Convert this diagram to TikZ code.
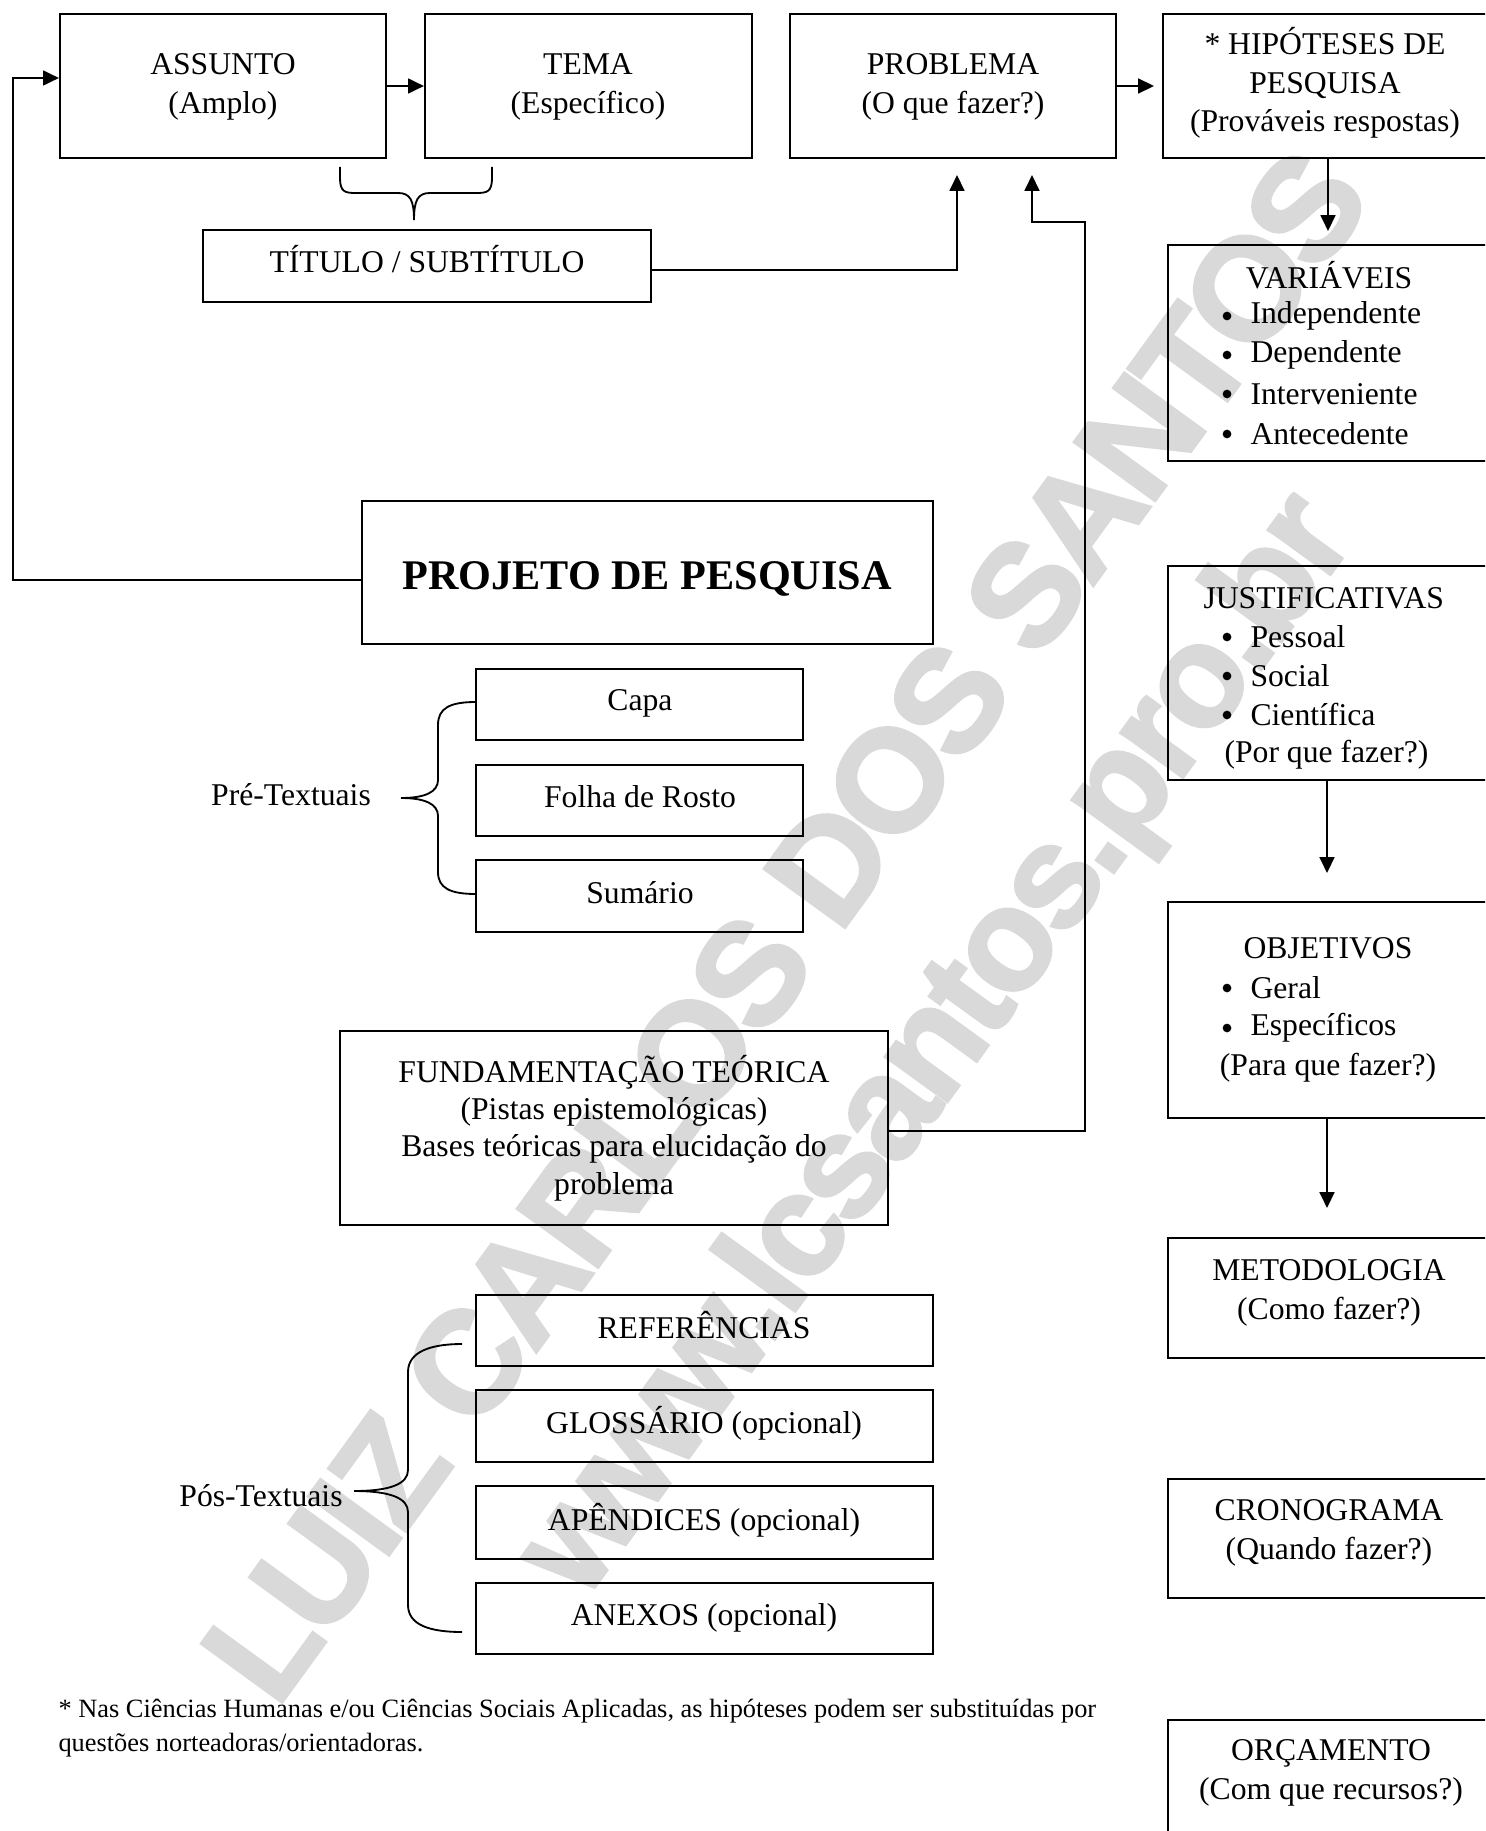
\documentclass[tikz,border=0pt]{standalone}
\usepackage{fontspec}
\setmainfont{Liberation Serif}
\newfontfamily\wmfont[LetterSpace=-4, BoldFeatures={FakeBold=2}]{Liberation Sans}
\usetikzlibrary{arrows.meta,fit}
\definecolor{wmgray}{RGB}{217,217,217}
\begin{document}
\begin{tikzpicture}[x=0.379pt,y=-0.379pt,
  box/.style={draw, line width=0.8pt, inner sep=0pt},
  txt/.style={font=\fontsize{12}{15}\selectfont, align=center, inner sep=0pt},
  ltxt/.style={font=\fontsize{12}{15}\selectfont, anchor=west, inner sep=0pt},
  bul/.style={circle, fill=black, inner sep=0pt, minimum size=3.3pt},
  arr/.style={line width=0.8pt, -{Triangle[length=6pt,width=5.6pt]}},
  brc/.style={line width=0.7pt},
  wm/.style={font=\wmfont\bfseries\fontsize{55}{55}\selectfont, text=wmgray, rotate=54, inner sep=0pt}]
\useasboundingbox (0,0) rectangle (1485,1831);
\clip (0,0) rectangle (1485,1831);
\fill[white] (0,0) rectangle (1485,1831);

% watermark
\node[wm] (wm1) at (785,925) {LUIZ CARLOS DOS SANTOS};
\node[wm] (wm2) at (940,1048) {www.lcsantos.pro.br};

% top row
\node[box, fit={(60,14) (386,158)}] (assunto) {};
\node[box, fit={(425,14) (752,158)}] (tema) {};
\node[box, fit={(790,14) (1116,158)}] (problema) {};
\node[box, fit={(1163,14) (1500,158)}] (hip) {};
\node[txt] (tassunto) at (223,87) {ASSUNTO\\(Amplo)};
\node[txt] (ttema) at (588,87) {TEMA\\(Específico)};
\node[txt] (tproblema) at (953,87) {PROBLEMA\\(O que fazer?)};
\node[txt, font=\fontsize{12}{14.5}\selectfont] (thip) at (1325,83) {* HIPÓTESES DE\\PESQUISA\\(Prováveis respostas)};

\node[box, fit={(203,230) (651,302)}] (titulo) {};
\node[txt] (ttitulo) at (427,259) {TÍTULO / SUBTÍTULO};

% brace under assunto / tema
\coordinate (btip) at (414,220);
\draw[brc] (340,167) -- (340,178) .. controls (340,192) and (345,193) .. (356,193) -- (398,193) .. controls (410,193) and (414,200) .. (btip);
\draw[brc] (492,167) -- (492,178) .. controls (492,192) and (487,193) .. (476,193) -- (430,193) .. controls (418,193) and (414,200) .. (btip);

% right column
\node[box, fit={(1168,245) (1500,461)}] (variaveis) {};
\node[txt] (tvar) at (1329,275) {VARIÁVEIS};
\foreach \yy/\tt [count=\i] in {316/Independente,355/Dependente,394/Interveniente,434/Antecedente}{
  \node[bul] (vb\i) at (1227,\yy) {};
  \node[ltxt] (vt\i) at (1250,\yy) {\tt};
}

\node[box, fit={(1168,566) (1500,780)}] (just) {};
\node[ltxt] (tjust) at (1203,598) {JUSTIFICATIVAS};
\foreach \yy/\tt [count=\i] in {637/Pessoal,676/Social,715/Científica}{
  \node[bul] (jb\i) at (1227,\yy) {};
  \node[ltxt] (jt\i) at (1250,\yy) {\tt};
}
\node[ltxt] (tjustq) at (1224,755) {(Por que fazer?)};

\node[box, fit={(1168,902) (1500,1118)}] (obj) {};
\node[txt] (tobj) at (1328,948) {OBJETIVOS};
\foreach \yy/\tt [count=\i] in {988/Geral,1028/Específicos}{
  \node[bul] (ob\i) at (1227,\yy) {};
  \node[ltxt] (ot\i) at (1250,\yy) {\tt};
}
\node[txt] (tobjq) at (1328,1068) {(Para que fazer?)};

\node[box, fit={(1168,1238) (1500,1358)}] (metod) {};
\node[txt] (tmetod) at (1329,1293) {METODOLOGIA\\(Como fazer?)};
\node[box, fit={(1168,1479) (1500,1598)}] (crono) {};
\node[txt] (tcrono) at (1329,1533) {CRONOGRAMA\\(Quando fazer?)};
\node[box, fit={(1168,1720) (1500,1850)}] (orc) {};
\node[txt] (torc) at (1331,1773) {ORÇAMENTO\\(Com que recursos?)};

% center
\node[box, fit={(362,501) (933,644)}] (projeto) {};
\node[txt, font=\bfseries\fontsize{16}{19}\selectfont] (tprojeto) at (647,579) {PROJETO DE PESQUISA};

\node[box, fit={(476,669) (803,740)}] (capa) {};
\node[box, fit={(476,765) (803,836)}] (folha) {};
\node[box, fit={(476,860) (803,932)}] (sumario) {};
\node[txt] (tcapa) at (640,703) {Capa};
\node[txt] (tfolha) at (640,797) {Folha de Rosto};
\node[txt] (tsum) at (640,893) {Sumário};
\node[txt] (pre) at (291,795) {Pré-Textuais};
\coordinate (ptip) at (401,798);
\draw[brc] (476,702) .. controls (450,702) and (438,708) .. (438,725) -- (438,780) .. controls (438,792) and (425,798) .. (ptip);
\draw[brc] (ptip) .. controls (425,798) and (438,804) .. (438,816) -- (438,872) .. controls (438,888) and (450,894) .. (476,894);

\node[box, fit={(340,1031) (888,1225)}] (fund) {};
\node[txt, font=\fontsize{12}{14.2}\selectfont] (tfund) at (614,1128) {FUNDAMENTAÇÃO TEÓRICA\\(Pistas epistemológicas)\\Bases teóricas para elucidação do\\problema};

\node[box, fit={(476,1295) (933,1366)}] (ref) {};
\node[box, fit={(476,1390) (933,1462)}] (gloss) {};
\node[box, fit={(476,1486) (933,1559)}] (apend) {};
\node[box, fit={(476,1583) (933,1654)}] (anex) {};
\node[txt] (tref) at (704,1325) {REFERÊNCIAS};
\node[txt] (tgloss) at (704,1423) {GLOSSÁRIO (opcional)};
\node[txt] (tapend) at (704,1520) {APÊNDICES (opcional)};
\node[txt] (tanex) at (704,1618) {ANEXOS (opcional)};
\node[txt] (pos) at (261,1496) {Pós-Textuais};
\coordinate (qtip) at (354,1491);
\draw[brc] (462,1344) .. controls (430,1344) and (408,1352) .. (408,1372) -- (408,1470) .. controls (408,1484) and (390,1491) .. (qtip);
\draw[brc] (qtip) .. controls (390,1491) and (408,1498) .. (408,1512) -- (408,1605) .. controls (408,1625) and (430,1632) .. (462,1632);

% footnote
\node[font=\fontsize{10}{12.9}\selectfont, align=left, anchor=west, inner sep=0pt] (foot) at (58,1728) {* Nas Ciências Humanas e/ou Ciências Sociais Aplicadas, as hipóteses podem ser substituídas por\\questões norteadoras/orientadoras.};

% connectors
\coordinate (lc1) at (13,580);
\coordinate (lc2) at (13,78);
\draw[arr] (projeto.west |- lc1) -- (lc1) -- (lc2) -- (assunto.west |- lc2);
\coordinate (a1) at (400,86);
\draw[arr] (assunto.east |- a1) -- (tema.west |- a1);
\draw[arr] (problema.east |- a1) -- ([xshift=-3pt]hip.west |- a1);
\coordinate (tc1) at (957,270);
\coordinate (tc2) at (957,175);
\draw[arr] (titulo.east |- tc1) -- (tc1) -- (tc2);
\coordinate (fc1) at (1085,1131);
\coordinate (fc2) at (1085,222);
\coordinate (fc3) at (1032,222);
\coordinate (fc4) at (1032,175);
\draw[arr] (fund.east |- fc1) -- (fc1) -- (fc2) -- (fc3) -- (fc4);
\coordinate (h1) at (1328,231);
\draw[arr] (hip.south -| h1) -- (h1);
\coordinate (j1) at (1327,873);
\draw[arr] (just.south -| j1) -- (j1);
\coordinate (o1) at (1327,1208);
\draw[arr] (obj.south -| o1) -- (o1);
\end{tikzpicture}
\end{document}
